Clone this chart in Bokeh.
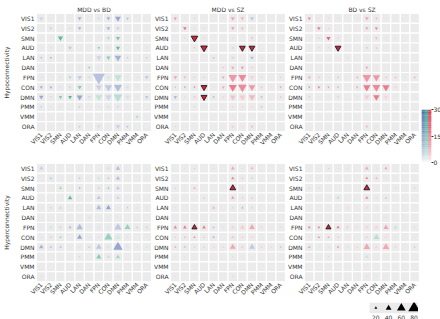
import numpy as np
from bokeh.plotting import figure
from bokeh.models import ColumnDataSource, FactorRange, Range1d, FixedTicker, BoxAnnotation
from bokeh.transform import linear_cmap
from bokeh.layouts import row, column
from bokeh.embed import file_html
from bokeh.resources import INLINE

NETS = ["VIS1", "VIS2", "SMN", "AUD", "LAN", "DAN", "FPN", "CON", "DMN", "PMM", "VMM", "ORA"]
TITLES = ["MDD vs BD", "MDD vs SZ", "BD vs SZ"]
ROW_LABELS = ["Hypoconnectivity", "Hyperconnectivity"]
CB_TICKS = [0, 15, 30]
SIZE_LEGEND = [20, 40, 60, 80]

# size values (S) and signed colour values (C: + first group, - second group)
S1 = [[30,10,15,8,25,10,20,25,40,18,5,5],[10,20,10,8,22,8,15,25,20,8,4,8],[8,8,35,10,10,10,10,20,28,8,4,4],
      [8,8,8,25,8,4,20,15,28,8,4,8],[15,15,8,8,12,12,35,28,45,12,4,12],[4,4,6,6,10,18,20,15,15,6,4,4],
      [25,15,20,20,35,20,85,30,50,20,20,25],[22,20,15,20,28,20,40,50,55,25,15,15],[30,20,25,25,40,25,45,45,60,30,20,25],
      [12,10,10,8,12,4,20,20,25,15,4,8],[4,4,4,4,6,4,10,8,10,6,18,4],[4,8,4,8,15,4,25,15,30,15,4,4]]
C1 = [[4,2,2,2,10,1,3,10,12,8,0,0],[1,-6,1,8,10,1,-3,10,6,1,0,3],[3,4,-18,2,2,2,2,-8,-14,1,0,0],
      [2,8,1,6,1,0,-10,-4,-18,1,0,-6],[8,10,1,1,2,2,4,-12,10,8,0,8],[0,0,1,1,3,-10,2,2,2,1,0,0],
      [2,2,-3,-8,5,-4,7,-3,-5,2,2,6],[10,10,3,-5,-12,2,5,6,8,3,2,2],[12,3,-12,-20,12,3,-5,4,-6,3,2,6],
      [8,3,4,1,8,0,2,3,3,2,0,1],[0,0,0,0,1,0,1,1,1,1,-8,0],[0,3,0,-6,6,0,3,2,5,8,0,0]]
SIG1 = []

S2 = [[22,10,8,4,4,6,28,25,28,4,4,6],[6,25,8,8,4,6,22,20,15,4,6,6],[6,8,45,8,4,6,12,10,18,4,4,4],
      [6,6,8,45,4,4,15,40,40,4,4,4],[4,6,4,4,20,8,22,10,25,8,4,4],[4,6,4,6,4,12,22,22,15,6,4,4],
      [25,20,20,15,6,20,60,55,35,15,12,15],[12,15,15,40,12,20,55,60,45,20,15,15],[25,15,15,40,20,20,40,40,45,20,15,15],
      [4,4,8,4,4,4,15,15,15,15,4,4],[4,4,6,4,4,4,12,10,8,4,4,4],[8,4,4,4,4,4,20,15,20,4,4,4]]
C2 = [[-10,-2,-8,0,0,-6,-8,-6,6,0,0,-2],[-2,-15,-8,-8,0,-2,-10,-6,-3,0,-2,-2],[-2,-8,-32,-12,0,-2,-4,-2,-6,0,0,0],
      [-2,-2,-14,-32,0,0,-5,-32,-32,0,0,0],[0,-2,0,0,5,1,4,1,8,5,0,0],[0,-2,0,-2,0,-6,-8,-10,-4,-2,0,0],
      [-8,-6,3,-4,0,-8,-10,-12,-3,-3,-2,-4],[-8,-10,-12,-32,-3,-8,-14,-12,-10,-4,-2,-10],[8,-3,-6,-32,6,-3,-5,-4,-6,6,-2,-6],
      [0,0,-6,0,0,0,-3,-3,-3,6,0,0],[0,0,-3,0,0,0,-2,-2,-1,0,0,0],[-8,0,0,0,0,0,-4,-3,-6,0,0,0]]
SIG2 = [("SMN","SMN"),("AUD","AUD"),("AUD","CON"),("AUD","DMN"),("CON","AUD"),("DMN","AUD")]

S3 = [[22,8,8,8,6,6,25,15,10,6,6,6],[8,25,8,6,4,6,22,20,10,6,6,6],[6,8,28,8,4,6,18,20,15,8,6,6],
      [6,8,8,40,4,4,15,12,10,6,4,6],[6,6,6,6,15,4,6,8,4,6,4,6],[6,6,4,4,4,8,18,10,10,4,4,4],
      [20,15,15,15,4,15,60,50,25,18,15,18],[15,18,15,15,4,18,50,55,50,20,12,12],[12,10,12,12,4,12,35,45,30,12,10,10],
      [6,6,6,6,4,4,10,10,10,10,4,4],[4,4,4,4,4,4,12,6,6,4,12,4],[6,4,6,6,4,4,20,15,10,4,4,4]]
C3 = [[-12,-6,-6,-6,-3,-4,-8,-8,-2,-3,-2,-2],[-4,-14,-8,-3,0,-2,-8,-14,-2,-3,-2,-2],[-3,-12,-18,-10,0,-2,3,-6,3,-6,-2,-2],
      [-2,-8,-8,-32,0,0,-6,-8,-3,-2,0,6],[-2,-2,-2,-2,4,0,-1,-1,0,-2,0,-2],[-2,-2,0,0,0,-2,-10,-3,-2,0,0,0],
      [-8,-6,3,-6,0,-8,-10,-10,-3,-5,3,-6],[-12,-14,-10,-8,0,-8,-14,-12,-14,-3,-2,-3],[-6,-3,3,-6,0,-3,-4,-14,-3,-2,-2,-2],
      [-2,-2,-2,-2,0,0,-3,-2,-2,-2,0,0],[0,0,0,0,0,0,3,-1,-1,0,5,0],[-2,0,-2,-2,0,0,-6,-3,-2,0,0,0]]
SIG3 = [("AUD","AUD")]

S4 = [[28,8,8,6,8,4,12,22,30,4,4,6],[6,22,8,4,12,4,20,15,28,4,4,4],[8,6,22,8,15,4,20,15,25,4,4,6],
      [6,4,4,30,6,4,28,8,22,6,4,4],[10,12,15,6,4,8,35,35,15,12,10,10],[4,4,4,4,8,15,15,15,15,4,4,4],
      [15,20,20,22,45,20,30,30,50,40,20,20],[15,15,15,12,35,15,25,55,40,25,12,15],[30,22,22,15,25,20,40,30,65,30,20,20],
      [4,4,4,6,10,4,35,22,30,6,4,4],[4,4,4,4,6,4,12,6,10,4,4,4],[8,4,8,4,10,4,15,15,20,4,4,4]]
C4 = [[5,2,2,1,2,0,2,-4,8,0,0,-4],[1,5,1,0,8,0,-4,6,8,0,0,0],[1,1,-8,1,10,0,4,-12,6,0,0,1],
      [1,0,0,-18,1,0,6,1,5,1,0,0],[3,6,6,1,0,2,8,12,2,8,-5,-5],[0,0,0,0,2,-4,2,-3,2,0,0,0],
      [2,-4,4,8,8,2,2,2,6,-10,4,4],[-3,5,-10,1,12,2,2,-10,-3,2,1,2],[10,5,5,2,2,4,6,-3,12,2,2,-3],
      [0,0,0,1,6,0,-12,4,-8,1,0,0],[0,0,0,0,-4,0,2,1,1,0,0,0],[-6,0,3,0,2,0,2,2,-3,0,0,0]]
SIG4 = []

S5 = [[8,6,8,6,8,4,25,12,22,6,4,6],[4,8,6,6,4,4,22,15,18,4,4,6],[8,6,20,6,4,6,40,15,12,4,4,6],
      [6,6,6,15,4,4,22,15,15,6,4,4],[6,6,6,6,22,4,20,18,18,4,4,4],[4,4,4,4,4,6,10,10,12,4,4,4],
      [25,25,35,25,20,12,25,30,40,20,12,15],[10,12,15,10,18,4,25,20,20,12,6,10],[15,18,15,10,15,15,40,25,40,20,15,15],
      [6,6,6,4,6,4,15,10,12,4,4,4],[4,4,4,4,4,4,10,6,6,4,4,4],[6,6,6,4,4,4,15,10,12,4,4,4]]
C5 = [[-2,-6,-10,-2,-6,0,-8,-3,-6,-1,0,-2],[0,-2,-6,-2,0,0,-12,-4,4,0,0,-2],[-10,-6,-6,-2,0,-2,-32,-3,-3,0,0,-2],
      [-6,-2,-2,-5,0,0,-10,-4,-6,-2,0,0],[-6,-2,-2,-2,-6,0,3,8,4,0,0,0],[0,0,0,0,0,-1,-1,-1,-3,0,0,0],
      [-12,-14,-32,-14,5,-3,-3,-4,-8,-3,-2,3],[-8,-10,-12,-8,8,0,-4,-3,-3,-2,-1,-2],[-8,6,4,-8,-3,-3,-8,-3,6,-3,-3,-6],
      [-2,-6,-2,0,-2,0,-3,-2,-3,0,0,0],[0,0,0,0,0,0,-2,-1,-1,0,0,0],[-6,-2,-2,0,0,0,3,-2,-3,0,0,0]]
SIG5 = [("SMN","FPN"),("FPN","SMN")]

S6 = [[10,6,8,6,6,4,25,10,22,6,4,6],[6,8,6,6,4,6,20,15,12,6,6,6],[8,8,4,4,4,6,40,10,10,8,6,8],
      [6,6,6,22,4,6,22,15,15,4,4,4],[6,6,6,6,15,6,20,12,15,4,4,4],[4,4,4,4,4,4,12,6,12,4,4,4],
      [20,20,35,22,20,15,28,30,35,25,12,15],[10,15,15,12,12,4,22,40,20,15,10,12],[20,15,12,18,20,10,45,25,45,20,12,15],
      [6,6,8,4,4,4,25,10,12,4,4,4],[4,4,4,4,4,4,10,6,6,4,4,4],[6,4,6,4,4,4,15,12,10,4,4,4]]
C6 = [[-3,-4,-10,-6,-6,0,-8,-3,-8,-2,0,-2],[-2,-3,-6,-2,0,-2,-12,-8,3,-2,-2,-2],[-12,-8,0,0,0,-2,-32,-3,-3,-8,-4,-10],
      [-2,-2,-2,6,0,-2,-12,-3,-8,0,0,0],[-2,-2,-2,-2,-4,-2,-3,-3,3,0,0,0],[0,0,0,0,0,0,-2,-1,-4,0,0,0],
      [-12,-12,-32,-14,-4,-3,-3,-3,-8,5,-2,-3],[-3,-12,-8,-6,-3,0,-3,6,-3,3,-1,3],[-8,3,-3,-10,3,-6,-8,-3,-8,-3,-2,-5],
      [-2,-2,-8,0,0,0,4,-2,-3,0,0,0],[0,0,0,0,0,0,-2,-1,-1,0,0,0],[-2,0,-2,0,0,0,-3,3,-2,0,0,0]]
SIG6 = [("SMN","FPN"),("FPN","SMN")]

GROUP_COLORS = {"MDD": "#3a56a8", "BD": "#189b7a", "SZ": "#dc1f3e"}
FONT = "DejaVu Sans"
TXT = "#333333"
PX_PER_SIZE = 0.145
GAMMA = 0.7


def ramp(hexcol, n=256):
    r, g, b = int(hexcol[1:3], 16), int(hexcol[3:5], 16), int(hexcol[5:7], 16)
    out = []
    for t in np.linspace(0, 1, n) ** GAMMA:
        out.append("#%02x%02x%02x" % (round(255 + (r - 255) * t), round(255 + (g - 255) * t), round(255 + (b - 255) * t)))
    return out


RAMPS = {k: ramp(v) for k, v in GROUP_COLORS.items()}


def style_axes(p):
    p.axis.major_label_text_font_size = "6px"
    p.axis.major_label_text_font = FONT
    p.axis.major_label_text_color = TXT
    p.axis.axis_line_color = None
    p.axis.major_tick_line_color = None
    p.axis.minor_tick_line_color = None
    p.axis.major_tick_out = 0
    p.axis.major_tick_in = 0
    p.axis.major_label_standoff = 2
    p.grid.visible = False
    p.outline_line_color = None


def panel(S, C, sig, groups, marker, title=None, ylabel=None, left=18, top=0, bottom=32):
    p = figure(x_range=FactorRange(*NETS), y_range=FactorRange(*NETS[::-1]),
               frame_width=115, frame_height=118, min_border_left=left, min_border_right=0,
               min_border_top=top, min_border_bottom=bottom, output_backend="svg",
               toolbar_location=None, title=title)
    xs = [c for r in NETS for c in NETS]
    ys = [r for r in NETS for c in NETS]
    p.rect(xs, ys, 1, 1, fill_color="#ebebeb", line_color="white", line_width=1.2)
    for sign, g in ((1, groups[0]), (-1, groups[1])):
        d = dict(x=[], y=[], s=[], c=[], la=[])
        for i, rn in enumerate(NETS):
            for j, cn in enumerate(NETS):
                v = C[i][j]
                if (sign == 1 and v >= 0) or (sign == -1 and v < 0):
                    d["x"].append(cn)
                    d["y"].append(rn)
                    d["s"].append(S[i][j] * PX_PER_SIZE)
                    d["c"].append(abs(v))
                    d["la"].append(1.0 if (rn, cn) in sig else 0.0)
        p.scatter("x", "y", size="s", marker=marker, source=ColumnDataSource(d),
                  fill_color=linear_cmap("c", RAMPS[g], 0, 30),
                  line_color="#1a1a1a", line_alpha="la", line_width=0.9)
    style_axes(p)
    p.xaxis.major_label_orientation = np.pi / 4
    if title:
        p.title.text_font_size = "6px"
        p.title.text_font = FONT
        p.title.text_font_style = "normal"
        p.title.text_color = TXT
        p.title.align = "center"
        p.title.standoff = 2
    if ylabel:
        p.yaxis.axis_label = ylabel
        p.yaxis.axis_label_text_font_size = "6px"
        p.yaxis.axis_label_text_font = FONT
        p.yaxis.axis_label_text_font_style = "normal"
        p.yaxis.axis_label_text_color = TXT
        p.yaxis.axis_label_standoff = 7
    return p


PAIRS = [("MDD", "BD"), ("MDD", "SZ"), ("BD", "SZ")]
p1 = panel(S1, C1, SIG1, PAIRS[0], "inverted_triangle", TITLES[0], ROW_LABELS[0], left=33, top=13, bottom=32)
p2 = panel(S2, C2, SIG2, PAIRS[1], "inverted_triangle", TITLES[1], None, left=19, top=13, bottom=32)
p3 = panel(S3, C3, SIG3, PAIRS[2], "inverted_triangle", TITLES[2], None, left=18, top=13, bottom=32)
p4 = panel(S4, C4, SIG4, PAIRS[0], "triangle", None, ROW_LABELS[1], left=33, top=0, bottom=38)
p5 = panel(S5, C5, SIG5, PAIRS[1], "triangle", None, None, left=19, top=0, bottom=38)
p6 = panel(S6, C6, SIG6, PAIRS[2], "triangle", None, None, left=18, top=0, bottom=18)

# size legend: same frame as p6, legend keys on the right part
leg = figure(frame_width=115, frame_height=11, x_range=Range1d(-92, 88.5), y_range=Range1d(0, 1),
             min_border_left=18, min_border_right=0, min_border_top=1, min_border_bottom=8,
             output_backend="svg", toolbar_location=None, y_axis_location=None)
leg.add_layout(BoxAnnotation(left=SIZE_LEGEND[0] - 10, fill_color="#ebebeb", fill_alpha=1.0,
                             line_color=None, level="underlay"))
leg.scatter(SIZE_LEGEND, [0.5] * len(SIZE_LEGEND), size=[v * PX_PER_SIZE for v in SIZE_LEGEND],
            marker="triangle", fill_color="black", line_color=None)
style_axes(leg)
leg.xaxis.ticker = FixedTicker(ticks=SIZE_LEGEND)
leg.xaxis.major_label_standoff = 1

# colour bar
cb = figure(frame_width=10, frame_height=53, x_range=Range1d(0, 3), y_range=Range1d(0, 30),
            min_border_left=2, min_border_right=11, min_border_top=109, min_border_bottom=157,
            output_backend="svg", toolbar_location=None, x_axis_location=None, y_axis_location="right")
levels = list(np.arange(0.125, 30, 0.25))
for k, g in enumerate(["MDD", "BD", "SZ"]):
    src = ColumnDataSource(dict(x=[k + 0.5] * len(levels), y=levels, v=levels))
    cb.rect("x", "y", 1, 0.3, source=src, fill_color=linear_cmap("v", RAMPS[g], 0, 30), line_color=None)
style_axes(cb)
cb.yaxis.ticker = FixedTicker(ticks=CB_TICKS)
cb.yaxis.major_tick_line_color = TXT
cb.yaxis.major_tick_out = 2
cb.yaxis.major_label_standoff = 0

layout = row(column(row(p1, p2, p3), row(p4, p5, column(p6, leg))), cb)
open("out.html", "w").write(file_html(layout, INLINE))
